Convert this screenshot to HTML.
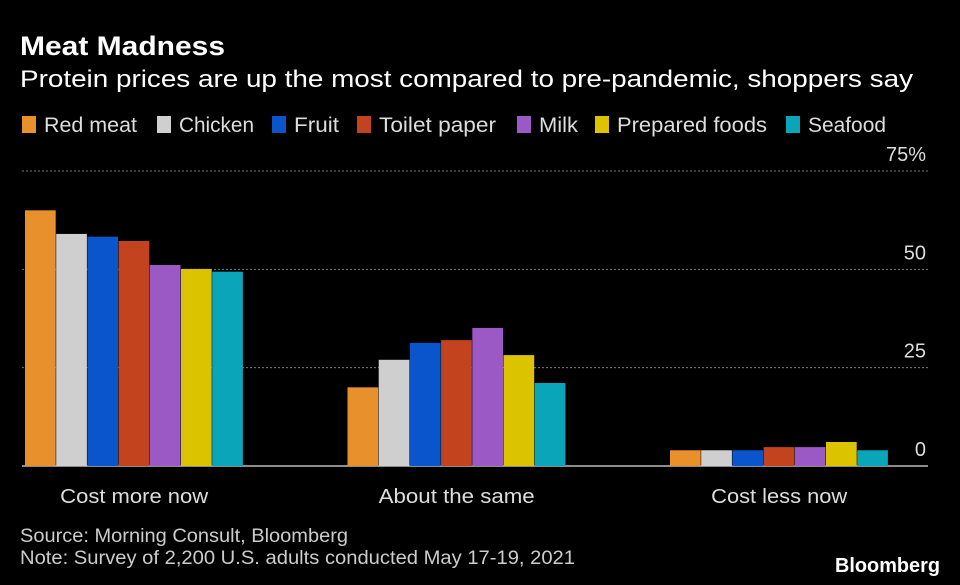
<!DOCTYPE html>
<html><head><meta charset="utf-8"><style>
body{margin:0;background:#000;width:960px;height:585px;overflow:hidden;font-family:"Liberation Sans",sans-serif;color:#fff}
svg{position:absolute;left:0;top:0}
</style></head><body>
<svg width="960" height="585" id="c">
<text x="20" y="55" font-size="27" font-weight="bold" fill="#fff" textLength="205" lengthAdjust="spacingAndGlyphs">Meat Madness</text>
<text x="20" y="87" font-size="24" fill="#fff" textLength="893" lengthAdjust="spacingAndGlyphs">Protein prices are up the most compared to pre-pandemic, shoppers say</text>
<g id="legend"></g>
<g id="grid"></g>
<g id="bars"></g>
<g id="xl"></g>
<text x="20" y="542" font-size="19" fill="#ccc" textLength="328" lengthAdjust="spacingAndGlyphs">Source: Morning Consult, Bloomberg</text>
<text x="20" y="564" font-size="19" fill="#ccc" textLength="555" lengthAdjust="spacingAndGlyphs">Note: Survey of 2,200 U.S. adults conducted May 17-19, 2021</text>
<text x="940" y="572" font-size="20" font-weight="bold" fill="#fff" text-anchor="end" textLength="105" lengthAdjust="spacingAndGlyphs">Bloomberg</text>
</svg>
<script>
const categories=["Cost more now","About the same","Cost less now"];
const seriesNames=["Red meat","Chicken","Fruit","Toilet paper","Milk","Prepared foods","Seafood"];
const redMeat=[65,20,4];
const chicken=[59,27,4];
const fruit=[58.3,31.3,4];
const toiletPaper=[57.2,32,4.8];
const milk=[51.1,35.1,4.8];
const preparedFoods=[50.1,28.2,6.1];
const seafood=[49.4,21.1,4];
const yTicks=[0,25,50,75];
const yTickLabels=["0","25","50","75%"];
const colors=["#e8912c","#cfcfcf","#0a55cc","#c4431f","#9b59c6","#dcc300","#0aa5b8"];
const series=[redMeat,chicken,fruit,toiletPaper,milk,preparedFoods,seafood];
const NS="http://www.w3.org/2000/svg";
const y0=466,pxPer=(466-171)/75;
const y=v=>y0-v*pxPer;
const plotL=22,plotR=928,barW=31.2;
const groupX=i=>25+322.5*i;
const labelW=[148,156,136];
const legX=[22,157,272,357,517,595,786];
const legW=[93,75,45,117,39,150,78];
function mk(tag,attrs,parent){const e=document.createElementNS(NS,tag);for(const k in attrs)e.setAttribute(k,attrs[k]);parent.appendChild(e);return e;}
const grid=document.getElementById('grid');
yTicks.forEach((t,i)=>{
  const l=mk('line',{x1:plotL,x2:plotR,y1:y(t),y2:y(t),stroke:t===0?'#bbb':'#777','stroke-width':t===0?1.5:1,'stroke-dasharray':t===0?'':'2,2'},grid);
  
  
  const tx=mk('text',{x:926,y:y(t)-10,'font-size':20,fill:'#ddd','text-anchor':'end'},grid);
  tx.textContent=yTickLabels[i];
  
  
});
const bars=document.getElementById('bars');
categories.forEach((c,i)=>{
  series.forEach((s,j)=>{
    const r=mk('rect',{x:groupX(i)+j*barW,y:y(s[i]),width:barW-0.5,height:y0-y(s[i]),fill:colors[j]},bars);
    
    
  });
  const t=mk('text',{x:groupX(i)+barW*series.length/2-labelW[i]/2,y:503,'font-size':20,fill:'#ddd',textLength:labelW[i],lengthAdjust:'spacingAndGlyphs'},document.getElementById('xl'));
  t.textContent=c;
  
  
});
const leg=document.getElementById('legend');
seriesNames.forEach((n,j)=>{
  const g=mk('g',{},leg);
  
  
  mk('rect',{x:legX[j],y:116,width:14,height:17,fill:colors[j]},g);
  const t=mk('text',{x:legX[j]+22,y:132,'font-size':21,fill:'#ddd',textLength:legW[j],lengthAdjust:'spacingAndGlyphs'},g);
  t.textContent=n;
});
</script>
</body></html>
